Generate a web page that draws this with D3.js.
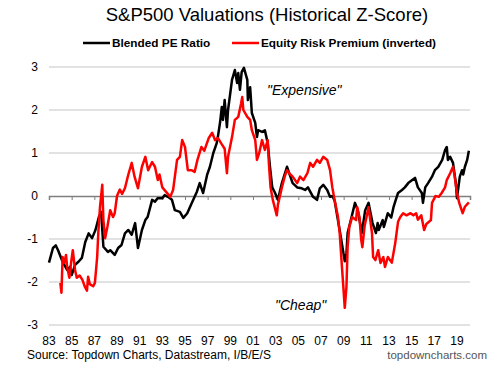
<!DOCTYPE html>
<html><head><meta charset="utf-8">
<script src="https://cdn.jsdelivr.net/npm/d3@7"></script>
<style>body{margin:0;background:#fff}svg{display:block}text{font-family:"Liberation Sans",Arial,sans-serif}</style>
</head><body><svg id="c" width="494" height="365"></svg>
<script>
const title = "S&P500 Valuations (Historical Z-Score)";
const seriesNames = ["Blended PE Ratio", "Equity Risk Premium (inverted)"];
const yTicks = [-3, -2, -1, 0, 1, 2, 3];
const xTickYears = [1983,1985,1987,1989,1991,1993,1995,1997,1999,2001,2003,2005,2007,2009,2011,2013,2015,2017,2019];
const xTickLabels = ["83","85","87","89","91","93","95","97","99","01","03","05","07","09","11","13","15","17","19"];

const peYears = [1983.0,1983.35,1983.6,1983.8,1984.2,1984.6,1984.85,1985.0,1985.3,1985.6,1985.9,1986.2,1986.5,1986.8,1987.1,1987.4,1987.6,1987.8,1988.2,1988.4,1988.8,1989.1,1989.4,1989.7,1990.0,1990.3,1990.6,1990.75,1990.85,1991.2,1991.5,1991.7,1992.1,1992.35,1992.6,1993.0,1993.2,1993.5,1993.85,1994.1,1994.55,1994.85,1995.2,1995.6,1996.05,1996.3,1996.6,1996.95,1997.2,1997.5,1997.8,1997.9,1998.1,1998.25,1998.35,1998.5,1998.7,1998.8,1999.15,1999.4,1999.6,1999.7,1999.85,2000.0,2000.2,2000.5,2000.55,2000.75,2000.9,2001.2,2001.35,2001.45,2001.8,2002.05,2002.3,2002.5,2002.7,2002.95,2003.2,2003.55,2004.0,2004.3,2004.5,2004.9,2005.3,2005.6,2005.85,2006.3,2006.65,2006.9,2007.2,2007.55,2007.8,2008.0,2008.2,2008.45,2008.75,2009.1,2009.25,2009.35,2009.7,2010.0,2010.15,2010.3,2010.6,2010.75,2010.9,2011.2,2011.55,2011.85,2012.0,2012.1,2012.45,2012.55,2012.9,2013.2,2013.4,2013.6,2013.8,2014.15,2014.4,2014.7,2015.05,2015.3,2015.55,2015.9,2016.0,2016.2,2016.45,2016.8,2017.05,2017.35,2017.7,2017.95,2018.1,2018.2,2018.4,2018.65,2018.9,2019.0,2019.25,2019.45,2019.55,2019.7,2019.9,2020.05];
const peValues = [-1.55,-1.21,-1.15,-1.26,-1.53,-1.72,-1.65,-1.84,-1.6,-1.53,-1.44,-1.07,-0.87,-0.98,-0.79,-0.49,-0.37,-1.18,-1.3,-1.26,-1.37,-1.21,-1.14,-0.87,-0.79,-0.9,-0.63,-0.98,-1.21,-0.79,-0.56,-0.49,-0.09,-0.13,-0.05,-0.05,0.02,-0.02,-0.09,-0.33,-0.37,-0.51,-0.4,-0.16,0.1,0.3,0.07,0.49,0.68,1.0,1.23,1.37,1.72,2.07,1.77,2.23,1.6,2.0,2.7,2.93,2.63,2.86,2.47,2.88,2.98,2.7,2.23,2.53,1.93,1.7,1.37,1.53,1.49,1.53,1.23,0.68,0.2,0.07,-0.09,0.3,0.68,0.45,0.3,0.2,0.18,0.14,0.2,-0.02,-0.09,0.18,0.26,0.14,-0.02,0.0,-0.1,-0.49,-0.95,-1.52,-1.33,-0.86,-0.49,-0.16,-0.26,-0.4,-0.86,-0.6,-0.33,-0.16,-0.63,-0.86,-0.63,-0.79,-0.56,-0.72,-0.4,-0.5,-0.26,-0.09,0.07,0.14,0.2,0.3,0.37,0.42,0.2,0.07,-0.16,0.2,0.3,0.45,0.6,0.68,0.84,1.07,1.14,0.84,0.91,0.77,0.3,-0.05,0.45,0.6,0.5,0.68,0.84,1.05];

const erpYears = [1984.0,1984.1,1984.2,1984.35,1984.5,1984.6,1984.8,1984.95,1985.1,1985.3,1985.45,1985.7,1985.95,1986.15,1986.35,1986.45,1986.6,1986.9,1987.05,1987.25,1987.35,1987.5,1987.7,1987.8,1987.95,1988.15,1988.4,1988.65,1988.8,1989.0,1989.25,1989.45,1989.7,1990.0,1990.3,1990.55,1990.85,1991.2,1991.5,1991.75,1992.1,1992.35,1992.6,1992.75,1993.0,1993.35,1993.7,1993.95,1994.3,1994.55,1994.75,1995.0,1995.25,1995.6,1995.85,1996.1,1996.45,1996.7,1997.1,1997.4,1997.65,1997.9,1998.25,1998.5,1998.7,1998.8,1999.15,1999.4,1999.7,1999.95,2000.05,2000.15,2000.5,2000.75,2000.9,2001.2,2001.35,2001.55,2001.8,2002.05,2002.3,2002.4,2002.55,2002.75,2003.1,2003.2,2003.55,2003.8,2004.0,2004.3,2004.5,2004.9,2005.15,2005.45,2005.8,2006.05,2006.3,2006.65,2006.9,2007.2,2007.55,2007.8,2008.0,2008.2,2008.5,2008.65,2008.85,2008.95,2009.1,2009.25,2009.35,2009.5,2009.75,2010.1,2010.2,2010.4,2010.55,2010.65,2010.85,2011.2,2011.5,2011.6,2011.8,2012.05,2012.25,2012.5,2012.65,2012.9,2013.25,2013.55,2013.8,2014.0,2014.25,2014.55,2014.9,2015.15,2015.4,2015.55,2015.85,2016.1,2016.3,2016.7,2016.8,2017.1,2017.4,2017.65,2017.95,2018.1,2018.4,2018.65,2018.8,2019.0,2019.2,2019.5,2019.7,2020.05];
const erpValues = [-2.02,-2.25,-1.42,-1.55,-1.37,-1.65,-1.9,-1.55,-1.26,-1.72,-1.9,-1.85,-1.95,-2.1,-2.2,-1.88,-2.05,-2.1,-2.02,-1.42,-0.86,-0.26,0.26,-0.56,-0.98,-0.72,-0.33,-0.49,-0.4,0.0,0.15,0.05,0.18,0.5,0.77,0.45,0.18,0.68,0.91,0.6,0.79,0.68,0.37,0.5,0.2,0.09,-0.02,0.14,0.84,0.91,1.3,1.14,0.6,0.6,0.56,0.84,1.14,1.05,1.35,1.47,1.3,1.35,1.2,1.1,0.53,0.91,1.37,1.77,1.84,2.15,2.3,2.0,1.84,1.77,1.53,1.3,0.84,1.0,1.3,1.07,1.3,0.77,0.2,-0.09,-0.45,-0.2,0.2,0.45,0.6,0.5,0.45,0.3,0.45,0.37,0.53,0.77,0.68,0.84,0.77,0.91,0.84,0.6,0.2,-0.09,-0.49,-0.86,-1.65,-2.02,-2.6,-2.1,-1.19,-0.72,-0.49,-0.56,-0.26,-0.5,-1.02,-1.19,-0.7,-0.26,-0.86,-1.42,-1.49,-1.26,-1.56,-1.42,-1.65,-1.42,-1.55,-1.1,-0.6,-0.49,-0.4,-0.45,-0.4,-0.45,-0.4,-0.55,-0.45,-0.79,-0.65,-0.56,-0.16,0.0,-0.02,0.07,0.2,0.37,0.53,0.68,0.45,0.07,-0.16,-0.4,-0.25,-0.15];

const svg = d3.select("#c");
const x = d3.scaleLinear().domain([1983, 2020.15]).range([49, 470]);
const y = d3.scaleLinear().domain([-3, 3]).range([325, 67]);

// gridlines
svg.append("g").selectAll("line").data(yTicks.filter(d => d !== 0)).join("line")
  .attr("x1", 49).attr("x2", 470).attr("y1", d => y(d)).attr("y2", d => y(d))
  .attr("stroke", "#d9d9d9").attr("stroke-width", 1.5);

// zero axis with ticks
const xAxis = d3.axisBottom(x).tickValues(xTickYears).tickSize(4).tickFormat("");
const gx = svg.append("g").attr("transform", `translate(0,${y(0)})`).call(xAxis);
gx.select(".domain").attr("stroke", "#7f7f7f").attr("stroke-width", 1.5);
gx.selectAll(".tick line").attr("stroke", "#7f7f7f").attr("stroke-width", 1);

// x labels
svg.append("g").selectAll("text").data(xTickYears).join("text")
  .attr("x", d => x(d)).attr("y", 345).attr("text-anchor", "middle")
  .attr("font-size", 12).attr("fill", "#000").text((d, i) => xTickLabels[i]);

// y labels
svg.append("g").selectAll("text").data(yTicks).join("text")
  .attr("x", 38).attr("y", d => y(d) + 4).attr("text-anchor", "end")
  .attr("font-size", 12).attr("fill", "#000").text(d => d);

const line = d3.line().x(d => x(d[0])).y(d => y(d[1]));
svg.append("path").datum(peYears.map((t, i) => [t, peValues[i]]))
  .attr("d", line).attr("fill", "none").attr("stroke", "#000").attr("stroke-width", 2.5).attr("stroke-linejoin", "round");
svg.append("path").datum(erpYears.map((t, i) => [t, erpValues[i]]))
  .attr("d", line).attr("fill", "none").attr("stroke", "#ff0000").attr("stroke-width", 2.5).attr("stroke-linejoin", "round");

// title
svg.append("text").attr("x", 267).attr("y", 21).attr("text-anchor", "middle")
  .attr("font-size", 18.5).attr("fill", "#000").text(title);

// legend
const leg = [{x: 83, c: "#000"}, {x: 232, c: "#ff0000"}];
leg.forEach((l, i) => {
  svg.append("line").attr("x1", l.x).attr("x2", l.x + 27).attr("y1", 43).attr("y2", 43)
    .attr("stroke", l.c).attr("stroke-width", 2.5);
  svg.append("text").attr("x", l.x + 29).attr("y", 47).attr("font-size", 11.8)
    .attr("font-weight", "bold").attr("fill", "#000").text(seriesNames[i]);
});

// annotations
svg.append("text").attr("x", 267).attr("y", 95).attr("font-size", 14).attr("font-style", "italic").text("\"Expensive\"");
svg.append("text").attr("x", 275).attr("y", 310).attr("font-size", 14).attr("font-style", "italic").text("\"Cheap\"");

// footer
svg.append("text").attr("x", 27).attr("y", 359).attr("font-size", 12).attr("fill", "#000").text("Source: Topdown Charts, Datastream, I/B/E/S");
svg.append("text").attr("x", 487).attr("y", 359).attr("text-anchor", "end").attr("font-size", 11.5).attr("fill", "#555").text("topdowncharts.com");
</script></body></html>
